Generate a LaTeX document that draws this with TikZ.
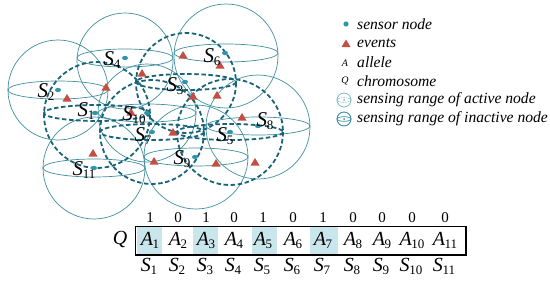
\documentclass[tikz,border=0pt]{standalone}
\usepackage{fontspec}
\setmainfont{Liberation Serif}
\definecolor{cthin}{RGB}{62,142,158}
\definecolor{cdash}{RGB}{25,100,120}
\definecolor{cdot}{RGB}{46,150,170}
\definecolor{cevt}{RGB}{196,78,66}
\definecolor{chl}{RGB}{200,230,236}
\definecolor{clight}{RGB}{125,184,196}
\newcommand\sublab[4]{{\fontsize{#3}{#3}\selectfont\itshape #1}\kern-0.3pt\raisebox{-0.5ex}{\fontsize{#4}{#4}\selectfont #2}}
\begin{document}
\begin{tikzpicture}[x=1pt,y=-1pt,
  solidrange/.style={draw=cthin,line width=0.7pt},
  dashrange/.style={draw=cdash,line width=1.8pt,dash pattern=on 4.5pt off 2.6pt},
  sdot/.style={fill=cdot},
  evt/.style={fill=cevt},
  lab/.style={inner sep=0pt},
  leg/.style={anchor=west,inner sep=0pt,font=\fontsize{15.6}{16}\selectfont\itshape},
  tab/.style={inner sep=0pt},
  bit/.style={inner sep=0pt,font=\fontsize{15}{15}\selectfont},
]
\useasboundingbox (0,0) rectangle (550,281);
% inactive (solid) sensing ranges
\foreach \x/\y/\r/\ey in {58/90/50/90, 125/61/48/58, 226/56/52/53, 258/127/52/126, 196/157/52/157, 147/113/49/113, 94/168/51/168}{
  \draw[solidrange] (\x,\y) circle[radius=\r];
  \draw[solidrange] (\x,\ey) ellipse[x radius=\r, y radius=9];
}
% active (dashed) sensing ranges
\foreach \x/\y/\r/\ey in {97/115/53/113, 186/83/50/82, 230/132/53/132, 152/132/52/132}{
  \draw[dashrange] (\x,\y) circle[radius=\r];
  \draw[dashrange] (\x,\ey) ellipse[x radius=\r, y radius=8];
}
% sensor nodes
\foreach \x/\y in {58/90, 125/58, 225/53, 185/82, 95/113, 147/113, 258/126, 152/132, 230/132, 195/157, 94/168}{
  \fill[sdot] (\x,\y) ellipse[x radius=3, y radius=2.2];
}
% events
\foreach \x/\y in {67/98, 106/87, 142/73, 183/55, 220/65, 193/96, 217/95, 131/112, 242/117, 173/132, 93/153, 154/161, 216/163, 255/162}{
  \fill[evt] (\x-4.5,\y+3.5) -- (\x+4.5,\y+3.5) -- (\x,\y-4) -- cycle;
}
% sensor labels
\node[lab] (l1) at (86,111) {\sublab{S}{1}{21}{13}};
\node[lab] (l2) at (46,92) {\sublab{S}{2}{21}{13}};
\node[lab] (l3) at (175,86) {\sublab{S}{3}{21}{13}};
\node[lab] (l4) at (112,60) {\sublab{S}{4}{21}{13}};
\node[lab] (l5) at (225,136) {\sublab{S}{5}{21}{13}};
\node[lab] (l6) at (212,57) {\sublab{S}{6}{21}{13}};
\node[lab] (l7) at (143,136) {\sublab{S}{7}{21}{13}};
\node[lab] (l8) at (265,121) {\sublab{S}{8}{21}{13}};
\node[lab] (l9) at (182,159) {\sublab{S}{9}{21}{13}};
\node[lab] (l10) at (134,115) {\sublab{S}{10}{21}{13}};
\node[lab] (l11) at (84,170) {\sublab{S}{11}{21}{13}};
% legend
\fill[sdot] (346,24) circle[radius=2.6];
\fill[evt] (341.5,47) -- (350.5,47) -- (346,39.5) -- cycle;
\node[inner sep=0pt,font=\fontsize{10}{10}\selectfont\itshape] (la) at (345,63) {A};
\node[inner sep=0pt,font=\fontsize{10}{10}\selectfont\itshape] (lq) at (345,81) {Q};
\draw[draw=clight,line width=0.8pt] (344,100) circle[radius=7];
\draw[draw=clight,line width=0.6pt,dash pattern=on 1.5pt off 1pt] (344,100) ellipse[x radius=7,y radius=2.3];
\fill[clight] (344,100) circle[radius=1];
\draw[draw=cthin,line width=0.9pt] (344,119) circle[radius=7];
\draw[draw=cthin,line width=0.7pt] (344,119) ellipse[x radius=7,y radius=2.3];
\fill[cthin] (344,119) circle[radius=1];
\node[leg] (t1) at (357,24) {sensor node};
\node[leg] (t2) at (357,43) {events};
\node[leg] (t3) at (357,62) {allele};
\node[leg] (t4) at (357,81) {chromosome};
\node[leg] (t5) at (357,100) {sensing range of active node};
\node[leg] (t6) at (357,119) {sensing range of inactive node};
% chromosome table
\foreach \c/\w in {149.2/25, 205.8/25, 264.2/25, 324.2/28}{
  \fill[chl] (\c-\w/2,226.7) rectangle (\c+\w/2,255);
}
\draw[line width=1.5pt] (135.7,226.7) rectangle (466,255);
\node[tab,font=\fontsize{20}{20}\selectfont\itshape] (q) at (120,239) {Q};
\foreach \i/\x/\b in {1/150/1, 2/178/0, 3/206/1, 4/234/0, 5/263/1, 6/293/0, 7/323/1, 8/353/0, 9/382/0, 10/412/0, 11/445/0}{
  \node[bit] (b\i) at (\x,217.5) {\b};
  \node[tab] (a\i) at (\x,240.5) {\sublab{A}{\i}{20}{13}};
  \node[tab] (s\i) at (\x-1,266.5) {\sublab{S}{\i}{20}{13}};
}
\end{tikzpicture}
\end{document}
